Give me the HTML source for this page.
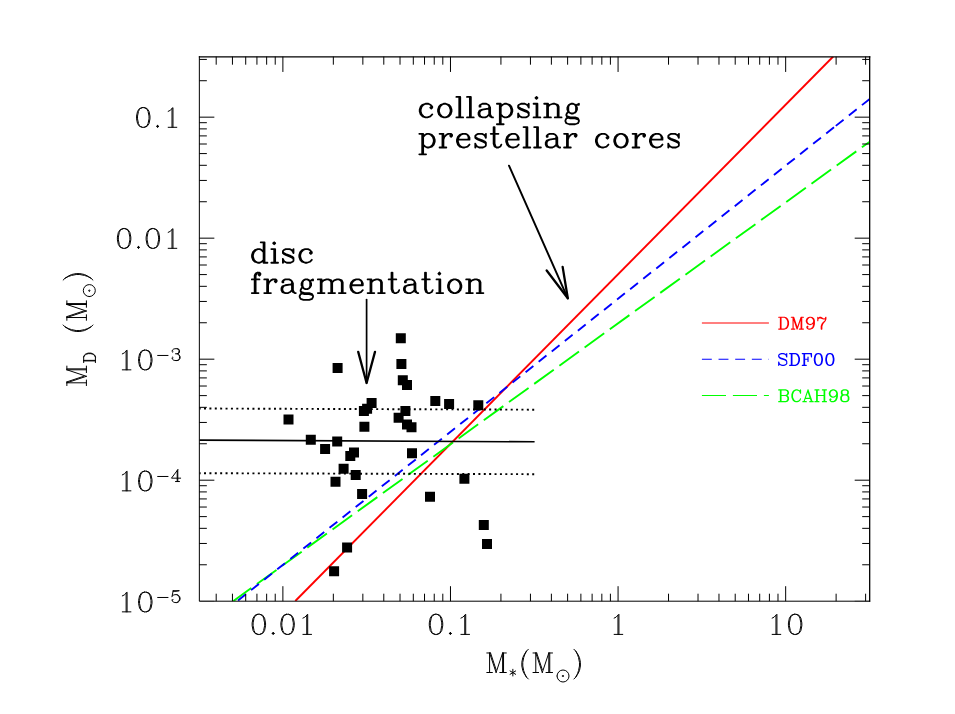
<!DOCTYPE html>
<html><head><meta charset="utf-8"><title>M_D vs M_*</title>
<style>html,body{margin:0;padding:0;background:#fff;font-family:"Liberation Sans",sans-serif}svg{display:block}</style>
</head><body>
<svg width="955" height="714" viewBox="0 0 955 714">
<rect width="955" height="714" fill="#fff"/>
<defs><clipPath id="c"><rect x="199.35" y="56.65" width="670.35" height="544.5500000000001"/></clipPath></defs>
<g clip-path="url(#c)" fill="none" stroke-width="1.9">
<path d="M295.3 601L833.2 56.5" stroke="#f00"/>
<path d="M233.4 601L869.4 141.9" stroke="#0f0" stroke-dasharray="24.15 6.94" stroke-dashoffset="2.1"/>
<path d="M237.4 601L834.80 126.67" stroke="#00f" stroke-dasharray="9.95 6.74" stroke-dashoffset="-0.8"/>
<path d="M835.80 125.88L880 90.78" stroke="#00f" stroke-dasharray="9.95 6.74"/>
<path d="M199.35 440.1L534.6 441.8" stroke="#000" stroke-width="1.6"/>
<path d="M199.35 408.5L534.6 409.7M199.35 473.2L534.6 474.2" stroke="#000" stroke-width="1.9" stroke-dasharray="2 3.38" stroke-dashoffset="0.7"/>
</g>
<path d="M395.8 333.2h10.0v10.0h-10.0zM332.6 362.9h10.0v10.0h-10.0zM396.4 359.0h10.0v10.0h-10.0zM397.8 375.2h10.0v10.0h-10.0zM402.0 380.0h10.0v10.0h-10.0zM366.6 398.1h10.0v10.0h-10.0zM362.1 403.8h10.0v10.0h-10.0zM358.9 405.9h10.0v10.0h-10.0zM283.5 414.5h10.0v10.0h-10.0zM359.4 421.7h10.0v10.0h-10.0zM400.4 406.1h10.0v10.0h-10.0zM393.6 412.8h10.0v10.0h-10.0zM402.0 419.6h10.0v10.0h-10.0zM406.5 422.3h10.0v10.0h-10.0zM305.8 434.8h10.0v10.0h-10.0zM332.2 436.5h10.0v10.0h-10.0zM320.1 443.9h10.0v10.0h-10.0zM349.0 447.4h10.0v10.0h-10.0zM345.3 451.1h10.0v10.0h-10.0zM407.0 448.3h10.0v10.0h-10.0zM338.6 463.7h10.0v10.0h-10.0zM350.7 470.1h10.0v10.0h-10.0zM330.5 476.8h10.0v10.0h-10.0zM357.1 488.9h10.0v10.0h-10.0zM425.0 491.8h10.0v10.0h-10.0zM430.3 396.0h10.0v10.0h-10.0zM444.1 398.9h10.0v10.0h-10.0zM473.3 400.2h10.0v10.0h-10.0zM459.4 473.8h10.0v10.0h-10.0zM342.1 542.5h10.0v10.0h-10.0zM329.1 566.2h10.0v10.0h-10.0zM478.8 520.1h10.0v10.0h-10.0zM482.0 539.0h10.0v10.0h-10.0z" fill="#000"/>
<path d="M198.85 56.85H870.3000000000001" stroke="#000" stroke-width="1.3" fill="none"/>
<path d="M869.6800000000001 56.15V601.7" stroke="#000" stroke-width="1.3" fill="none"/>
<path d="M199.35 56.15V601.2H870.2M216.20 601.2v-7.5M216.20 56.65v8.05M232.44 601.2v-7.5M232.44 56.65v8.05M245.71 601.2v-7.5M245.71 56.65v8.05M256.93 601.2v-7.5M256.93 56.65v8.05M266.65 601.2v-7.5M266.65 56.65v8.05M275.23 601.2v-7.5M275.23 56.65v8.05M282.89 601.2v-15.0M282.89 56.65v15.3M333.34 601.2v-7.5M333.34 56.65v8.05M362.85 601.2v-7.5M362.85 56.65v8.05M383.79 601.2v-7.5M383.79 56.65v8.05M400.03 601.2v-7.5M400.03 56.65v8.05M413.30 601.2v-7.5M413.30 56.65v8.05M424.52 601.2v-7.5M424.52 56.65v8.05M434.24 601.2v-7.5M434.24 56.65v8.05M442.81 601.2v-7.5M442.81 56.65v8.05M450.48 601.2v-15.0M450.48 56.65v15.3M500.93 601.2v-7.5M500.93 56.65v8.05M530.44 601.2v-7.5M530.44 56.65v8.05M551.38 601.2v-7.5M551.38 56.65v8.05M567.62 601.2v-7.5M567.62 56.65v8.05M580.89 601.2v-7.5M580.89 56.65v8.05M592.11 601.2v-7.5M592.11 56.65v8.05M601.83 601.2v-7.5M601.83 56.65v8.05M610.40 601.2v-7.5M610.40 56.65v8.05M618.07 601.2v-15.0M618.07 56.65v15.3M668.52 601.2v-7.5M668.52 56.65v8.05M698.03 601.2v-7.5M698.03 56.65v8.05M718.97 601.2v-7.5M718.97 56.65v8.05M735.21 601.2v-7.5M735.21 56.65v8.05M748.48 601.2v-7.5M748.48 56.65v8.05M759.70 601.2v-7.5M759.70 56.65v8.05M769.42 601.2v-7.5M769.42 56.65v8.05M777.99 601.2v-7.5M777.99 56.65v8.05M785.66 601.2v-15.0M785.66 56.65v15.3M836.11 601.2v-7.5M836.11 56.65v8.05M865.62 601.2v-7.5M865.62 56.65v8.05M199.35 564.77h7.5M869.7 564.77h-7.5M199.35 543.46h7.5M869.7 543.46h-7.5M199.35 528.34h7.5M869.7 528.34h-7.5M199.35 516.62h7.5M869.7 516.62h-7.5M199.35 507.04h7.5M869.7 507.04h-7.5M199.35 498.93h7.5M869.7 498.93h-7.5M199.35 491.92h7.5M869.7 491.92h-7.5M199.35 485.73h7.5M869.7 485.73h-7.5M199.35 480.19h15.0M869.7 480.19h-15.0M199.35 443.76h7.5M869.7 443.76h-7.5M199.35 422.45h7.5M869.7 422.45h-7.5M199.35 407.33h7.5M869.7 407.33h-7.5M199.35 395.61h7.5M869.7 395.61h-7.5M199.35 386.02h7.5M869.7 386.02h-7.5M199.35 377.92h7.5M869.7 377.92h-7.5M199.35 370.90h7.5M869.7 370.90h-7.5M199.35 364.71h7.5M869.7 364.71h-7.5M199.35 359.18h15.0M869.7 359.18h-15.0M199.35 322.75h7.5M869.7 322.75h-7.5M199.35 301.44h7.5M869.7 301.44h-7.5M199.35 286.32h7.5M869.7 286.32h-7.5M199.35 274.59h7.5M869.7 274.59h-7.5M199.35 265.01h7.5M869.7 265.01h-7.5M199.35 256.91h7.5M869.7 256.91h-7.5M199.35 249.89h7.5M869.7 249.89h-7.5M199.35 243.70h7.5M869.7 243.70h-7.5M199.35 238.17h15.0M869.7 238.17h-15.0M199.35 201.74h7.5M869.7 201.74h-7.5M199.35 180.43h7.5M869.7 180.43h-7.5M199.35 165.31h7.5M869.7 165.31h-7.5M199.35 153.58h7.5M869.7 153.58h-7.5M199.35 144.00h7.5M869.7 144.00h-7.5M199.35 135.90h7.5M869.7 135.90h-7.5M199.35 128.88h7.5M869.7 128.88h-7.5M199.35 122.69h7.5M869.7 122.69h-7.5M199.35 117.16h15.0M869.7 117.16h-15.0M199.35 80.73h7.5M869.7 80.73h-7.5M199.35 59.42h7.5M869.7 59.42h-7.5" fill="none" stroke="#000" stroke-width="1.0" stroke-linecap="butt"/>
<path d="M199.35 601.2h15.0M869.7 601.2h-15.0" fill="none" stroke="#000" stroke-opacity="0.4" stroke-width="1.0"/>
<path d="M257.89 614.28L255.01 615.24L253.10 618.11L252.14 622.90L252.14 625.78L253.10 630.57L255.01 633.44L257.89 634.40L259.80 634.40L262.68 633.44L264.59 630.57L265.55 625.78L265.55 622.90L264.59 618.11L262.68 615.24L259.80 614.28L257.89 614.28M257.89 614.28L255.97 615.24L255.01 616.20L254.05 618.11L253.10 622.90L253.10 625.78L254.05 630.57L255.01 632.48L255.97 633.44L257.89 634.40M259.80 634.40L261.72 633.44L262.68 632.48L263.63 630.57L264.59 625.78L264.59 622.90L263.63 618.11L262.68 616.20L261.72 615.24L259.80 614.28M273.21 632.48L272.26 633.44L273.21 634.40L274.17 633.44L273.21 632.48M272.26 633.44L274.17 633.44M273.21 632.48L273.21 634.40M286.63 614.28L283.75 615.24L281.84 618.11L280.88 622.90L280.88 625.78L281.84 630.57L283.75 633.44L286.63 634.40L288.54 634.40L291.42 633.44L293.33 630.57L294.29 625.78L294.29 622.90L293.33 618.11L291.42 615.24L288.54 614.28L286.63 614.28M286.63 614.28L284.71 615.24L283.75 616.20L282.79 618.11L281.84 622.90L281.84 625.78L282.79 630.57L283.75 632.48L284.71 633.44L286.63 634.40M288.54 634.40L290.46 633.44L291.42 632.48L292.37 630.57L293.33 625.78L293.33 622.90L292.37 618.11L291.42 616.20L290.46 615.24L288.54 614.28M302.91 618.11L304.83 617.16L307.70 614.28L307.70 634.40M306.74 615.24L306.74 634.40M302.91 634.40L311.53 634.40M435.05 614.28L432.18 615.24L430.26 618.11L429.31 622.90L429.31 625.78L430.26 630.57L432.18 633.44L435.05 634.40L436.97 634.40L439.84 633.44L441.76 630.57L442.72 625.78L442.72 622.90L441.76 618.11L439.84 615.24L436.97 614.28L435.05 614.28M435.05 614.28L433.14 615.24L432.18 616.20L431.22 618.11L430.26 622.90L430.26 625.78L431.22 630.57L432.18 632.48L433.14 633.44L435.05 634.40M436.97 634.40L438.89 633.44L439.84 632.48L440.80 630.57L441.76 625.78L441.76 622.90L440.80 618.11L439.84 616.20L438.89 615.24L436.97 614.28M450.38 632.48L449.42 633.44L450.38 634.40L451.34 633.44L450.38 632.48M449.42 633.44L451.34 633.44M450.38 632.48L450.38 634.40M460.92 618.11L462.84 617.16L465.71 614.28L465.71 634.40M464.75 615.24L464.75 634.40M460.92 634.40L469.54 634.40M614.14 618.11L616.05 617.16L618.93 614.28L618.93 634.40M617.97 615.24L617.97 634.40M614.14 634.40L622.76 634.40M772.14 618.11L774.06 617.16L776.93 614.28L776.93 634.40M775.98 615.24L775.98 634.40M772.14 634.40L780.77 634.40M794.18 614.28L791.30 615.24L789.39 618.11L788.43 622.90L788.43 625.78L789.39 630.57L791.30 633.44L794.18 634.40L796.09 634.40L798.97 633.44L800.88 630.57L801.84 625.78L801.84 622.90L800.88 618.11L798.97 615.24L796.09 614.28L794.18 614.28M794.18 614.28L792.26 615.24L791.30 616.20L790.35 618.11L789.39 622.90L789.39 625.78L790.35 630.57L791.30 632.48L792.26 633.44L794.18 634.40M796.09 634.40L798.01 633.44L798.97 632.48L799.93 630.57L800.88 625.78L800.88 622.90L799.93 618.11L798.97 616.20L798.01 615.24L796.09 614.28M142.31 107.61L139.44 108.54L137.52 111.36L136.56 116.05L136.56 118.86L137.52 123.55L139.44 126.37L142.31 127.30L144.23 127.30L147.10 126.37L149.02 123.55L149.98 118.86L149.98 116.05L149.02 111.36L147.10 108.54L144.23 107.61L142.31 107.61M142.31 107.61L140.40 108.54L139.44 109.48L138.48 111.36L137.52 116.05L137.52 118.86L138.48 123.55L139.44 125.43L140.40 126.37L142.31 127.30M144.23 127.30L146.14 126.37L147.10 125.43L148.06 123.55L149.02 118.86L149.02 116.05L148.06 111.36L147.10 109.48L146.14 108.54L144.23 107.61M157.64 125.43L156.68 126.37L157.64 127.30L158.60 126.37L157.64 125.43M156.68 126.37L158.60 126.37M157.64 125.43L157.64 127.30M168.18 111.36L170.09 110.42L172.97 107.61L172.97 127.30M172.01 108.54L172.01 127.30M168.18 127.30L176.80 127.30M123.15 228.62L120.28 229.56L118.36 232.37L117.40 237.06L117.40 239.87L118.36 244.56L120.28 247.38L123.15 248.32L125.07 248.32L127.94 247.38L129.86 244.56L130.82 239.87L130.82 237.06L129.86 232.37L127.94 229.56L125.07 228.62L123.15 228.62M123.15 228.62L121.24 229.56L120.28 230.49L119.32 232.37L118.36 237.06L118.36 239.87L119.32 244.56L120.28 246.44L121.24 247.38L123.15 248.32M125.07 248.32L126.98 247.38L127.94 246.44L128.90 244.56L129.86 239.87L129.86 237.06L128.90 232.37L127.94 230.49L126.98 229.56L125.07 228.62M138.48 246.44L137.52 247.38L138.48 248.32L139.44 247.38L138.48 246.44M137.52 247.38L139.44 247.38M138.48 246.44L138.48 248.32M151.89 228.62L149.02 229.56L147.10 232.37L146.14 237.06L146.14 239.87L147.10 244.56L149.02 247.38L151.89 248.32L153.81 248.32L156.68 247.38L158.60 244.56L159.56 239.87L159.56 237.06L158.60 232.37L156.68 229.56L153.81 228.62L151.89 228.62M151.89 228.62L149.98 229.56L149.02 230.49L148.06 232.37L147.10 237.06L147.10 239.87L148.06 244.56L149.02 246.44L149.98 247.38L151.89 248.32M153.81 248.32L155.72 247.38L156.68 246.44L157.64 244.56L158.60 239.87L158.60 237.06L157.64 232.37L156.68 230.49L155.72 229.56L153.81 228.62M168.18 232.37L170.09 231.43L172.97 228.62L172.97 248.32M172.01 229.56L172.01 248.32M168.18 248.32L176.80 248.32M122.30 353.88L124.22 352.94L127.09 350.13L127.09 369.83M126.13 351.07L126.13 369.83M122.30 369.83L130.92 369.83M144.33 350.13L141.46 351.07L139.54 353.88L138.59 358.57L138.59 361.38L139.54 366.07L141.46 368.89L144.33 369.83L146.25 369.83L149.12 368.89L151.04 366.07L152.00 361.38L152.00 358.57L151.04 353.88L149.12 351.07L146.25 350.13L144.33 350.13M144.33 350.13L142.42 351.07L141.46 352.00L140.50 353.88L139.54 358.57L139.54 361.38L140.50 366.07L141.46 367.95L142.42 368.89L144.33 369.83M146.25 369.83L148.17 368.89L149.12 367.95L150.08 366.07L151.04 361.38L151.04 358.57L150.08 353.88L149.12 352.00L148.17 351.07L146.25 350.13M157.67 355.46L168.02 355.46M172.62 350.96L173.19 351.52L172.62 352.08L172.04 351.52L172.04 350.96L172.62 349.83L173.19 349.27L174.92 348.71L177.21 348.71L178.94 349.27L179.51 350.40L179.51 352.08L178.94 353.21L177.21 353.77L175.49 353.77M177.21 348.71L178.36 349.27L178.94 350.40L178.94 352.08L178.36 353.21L177.21 353.77M177.21 353.77L178.36 354.34L179.51 355.46L180.09 356.59L180.09 358.28L179.51 359.40L178.94 359.96L177.21 360.53L174.92 360.53L173.19 359.96L172.62 359.40L172.04 358.28L172.04 357.71L172.62 357.15L173.19 357.71L172.62 358.28M178.94 354.90L179.51 356.59L179.51 358.28L178.94 359.40L178.36 359.96L177.21 360.53M122.30 474.89L124.22 473.95L127.09 471.14L127.09 490.84M126.13 472.08L126.13 490.84M122.30 490.84L130.92 490.84M144.33 471.14L141.46 472.08L139.54 474.89L138.59 479.58L138.59 482.40L139.54 487.09L141.46 489.90L144.33 490.84L146.25 490.84L149.12 489.90L151.04 487.09L152.00 482.40L152.00 479.58L151.04 474.89L149.12 472.08L146.25 471.14L144.33 471.14M144.33 471.14L142.42 472.08L141.46 473.02L140.50 474.89L139.54 479.58L139.54 482.40L140.50 487.09L141.46 488.96L142.42 489.90L144.33 490.84M146.25 490.84L148.17 489.90L149.12 488.96L150.08 487.09L151.04 482.40L151.04 479.58L150.08 474.89L149.12 473.02L148.17 472.08L146.25 471.14M157.67 476.47L168.02 476.47M177.21 470.84L177.21 481.54M177.79 469.72L177.79 481.54M177.79 469.72L171.47 478.16L180.66 478.16M175.49 481.54L179.51 481.54M122.30 595.90L124.22 594.97L127.09 592.15L127.09 611.85M126.13 593.09L126.13 611.85M122.30 611.85L130.92 611.85M144.33 592.15L141.46 593.09L139.54 595.90L138.59 600.59L138.59 603.41L139.54 608.10L141.46 610.91L144.33 611.85L146.25 611.85L149.12 610.91L151.04 608.10L152.00 603.41L152.00 600.59L151.04 595.90L149.12 593.09L146.25 592.15L144.33 592.15M144.33 592.15L142.42 593.09L141.46 594.03L140.50 595.90L139.54 600.59L139.54 603.41L140.50 608.10L141.46 609.97L142.42 610.91L144.33 611.85M146.25 611.85L148.17 610.91L149.12 609.97L150.08 608.10L151.04 603.41L151.04 600.59L150.08 595.90L149.12 594.03L148.17 593.09L146.25 592.15M157.67 597.48L168.02 597.48M173.19 590.73L172.04 596.36M172.04 596.36L173.19 595.23L174.92 594.67L176.64 594.67L178.36 595.23L179.51 596.36L180.09 598.05L180.09 599.17L179.51 600.86L178.36 601.99L176.64 602.55L174.92 602.55L173.19 601.99L172.62 601.42L172.04 600.30L172.04 599.74L172.62 599.17L173.19 599.74L172.62 600.30M176.64 594.67L177.79 595.23L178.94 596.36L179.51 598.05L179.51 599.17L178.94 600.86L177.79 601.99L176.64 602.55M173.19 590.73L178.94 590.73M173.19 591.29L176.06 591.29L178.94 590.73" fill="none" stroke="#000" stroke-width="1.0" stroke-linecap="round" stroke-linejoin="round"/>
<path d="M489.59 652.97L489.59 672.50M490.52 652.97L496.10 669.71M489.59 652.97L496.10 672.50M502.61 652.97L496.10 672.50M502.61 652.97L502.61 672.50M503.54 652.97L503.54 672.50M486.80 652.97L490.52 652.97M502.61 652.97L506.33 652.97M486.80 672.50L492.38 672.50M499.82 672.50L506.33 672.50M512.85 669.28L512.85 675.98M510.06 670.96L515.64 674.30M515.64 670.96L510.06 674.30M528.35 649.25L526.49 651.11L524.63 653.90L522.77 657.62L521.84 662.27L521.84 665.99L522.77 670.64L524.63 674.36L526.49 677.15L528.35 679.01M526.49 651.11L524.63 654.83L523.70 657.62L522.77 662.27L522.77 665.99L523.70 670.64L524.63 673.43L526.49 677.15M535.79 652.97L535.79 672.50M536.72 652.97L542.30 669.71M535.79 652.97L542.30 672.50M548.81 652.97L542.30 672.50M548.81 652.97L548.81 672.50M549.74 652.97L549.74 672.50M533.00 652.97L536.72 652.97M548.81 652.97L552.53 652.97M533.00 672.50L538.58 672.50M546.02 672.50L552.53 672.50M557.00 676.00a6.0 6.0 0 1 0 12.0 0a6.0 6.0 0 1 0 -12.0 0M562.35 676.00a0.65 0.65 0 1 0 1.3 0a0.65 0.65 0 1 0 -1.3 0M573.89 649.25L575.75 651.11L577.61 653.90L579.47 657.62L580.40 662.27L580.40 665.99L579.47 670.64L577.61 674.36L575.75 677.15L573.89 679.01M575.75 651.11L577.61 654.83L578.54 657.62L579.47 662.27L579.47 665.99L578.54 670.64L577.61 673.43L575.75 677.15" fill="none" stroke="#000" stroke-width="1.0" stroke-linecap="round" stroke-linejoin="round"/>
<g transform="translate(86.4 386.2) rotate(-90)"><path d="M3.39 -19.53L3.39 0.00M4.32 -19.53L9.90 -2.79M3.39 -19.53L9.90 0.00M16.41 -19.53L9.90 0.00M16.41 -19.53L16.41 0.00M17.34 -19.53L17.34 0.00M0.60 -19.53L4.32 -19.53M16.41 -19.53L20.13 -19.53M0.60 0.00L6.18 0.00M13.62 0.00L20.13 0.00M25.28 -2.72L25.28 9.00M25.84 -2.72L25.84 9.00M23.61 -2.72L29.19 -2.72L30.86 -2.16L31.98 -1.04L32.53 0.07L33.09 1.75L33.09 4.54L32.53 6.21L31.98 7.33L30.86 8.44L29.19 9.00L23.61 9.00M29.19 -2.72L30.30 -2.16L31.42 -1.04L31.98 0.07L32.53 1.75L32.53 4.54L31.98 6.21L31.42 7.33L30.30 8.44L29.19 9.00M61.23 -23.25L59.37 -21.39L57.51 -18.60L55.65 -14.88L54.72 -10.23L54.72 -6.51L55.65 -1.86L57.51 1.86L59.37 4.65L61.23 6.51M59.37 -21.39L57.51 -17.67L56.58 -14.88L55.65 -10.23L55.65 -6.51L56.58 -1.86L57.51 0.93L59.37 4.65M68.67 -19.53L68.67 0.00M69.60 -19.53L75.18 -2.79M68.67 -19.53L75.18 0.00M81.69 -19.53L75.18 0.00M81.69 -19.53L81.69 0.00M82.62 -19.53L82.62 0.00M65.88 -19.53L69.60 -19.53M81.69 -19.53L85.41 -19.53M65.88 0.00L71.46 0.00M78.90 0.00L85.41 0.00M89.60 2.90a6.0 6.0 0 1 0 12.0 0a6.0 6.0 0 1 0 -12.0 0M94.95 2.90a0.65 0.65 0 1 0 1.3 0a0.65 0.65 0 1 0 -1.3 0M106.09 -23.25L107.95 -21.39L109.81 -18.60L111.67 -14.88L112.60 -10.23L112.60 -6.51L111.67 -1.86L109.81 1.86L107.95 4.65L106.09 6.51M107.95 -21.39L109.81 -17.67L110.74 -14.88L111.67 -10.23L111.67 -6.51L110.74 -1.86L109.81 0.93L107.95 4.65" fill="none" stroke="#000" stroke-width="1.0" stroke-linecap="round" stroke-linejoin="round"/></g>
<path d="M431.28 106.68L430.31 107.65L431.28 108.62L432.25 107.65L432.25 106.68L430.31 104.73L428.38 103.75L425.49 103.75L422.60 104.73L420.67 106.68L419.70 109.60L419.70 111.55L420.67 114.48L422.60 116.43L425.49 117.40L427.42 117.40L430.31 116.43L432.25 114.48M425.49 103.75L423.56 104.73L421.63 106.68L420.67 109.60L420.67 111.55L421.63 114.48L423.56 116.43L425.49 117.40M443.82 103.75L440.93 104.73L439.00 106.68L438.04 109.60L438.04 111.55L439.00 114.48L440.93 116.43L443.82 117.40L445.75 117.40L448.65 116.43L450.58 114.48L451.55 111.55L451.55 109.60L450.58 106.68L448.65 104.73L445.75 103.75L443.82 103.75M443.82 103.75L441.89 104.73L439.97 106.68L439.00 109.60L439.00 111.55L439.97 114.48L441.89 116.43L443.82 117.40M445.75 117.40L447.69 116.43L449.62 114.48L450.58 111.55L450.58 109.60L449.62 106.68L447.69 104.73L445.75 103.75M459.26 96.93L459.26 117.40M460.23 96.93L460.23 117.40M456.37 96.93L460.23 96.93M456.37 117.40L463.12 117.40M469.88 96.93L469.88 117.40M470.85 96.93L470.85 117.40M466.99 96.93L470.85 96.93M466.99 117.40L473.74 117.40M480.50 105.70L480.50 106.68L479.53 106.68L479.53 105.70L480.50 104.73L482.43 103.75L486.29 103.75L488.22 104.73L489.18 105.70L490.14 107.65L490.14 114.48L491.11 116.43L492.07 117.40M489.18 105.70L489.18 114.48L490.14 116.43L492.07 117.40L493.04 117.40M489.18 107.65L488.22 108.62L482.43 109.60L479.53 110.58L478.56 112.53L478.56 114.48L479.53 116.43L482.43 117.40L485.32 117.40L487.25 116.43L489.18 114.48M482.43 109.60L480.50 110.58L479.53 112.53L479.53 114.48L480.50 116.43L482.43 117.40M499.80 103.75L499.80 124.23M500.76 103.75L500.76 124.23M500.76 106.68L502.69 104.73L504.62 103.75L506.55 103.75L509.44 104.73L511.38 106.68L512.34 109.60L512.34 111.55L511.38 114.48L509.44 116.43L506.55 117.40L504.62 117.40L502.69 116.43L500.76 114.48M506.55 103.75L508.48 104.73L510.41 106.68L511.38 109.60L511.38 111.55L510.41 114.48L508.48 116.43L506.55 117.40M496.90 103.75L500.76 103.75M496.90 124.23L503.65 124.23M527.78 105.70L528.75 103.75L528.75 107.65L527.78 105.70L526.82 104.73L524.88 103.75L521.02 103.75L519.10 104.73L518.13 105.70L518.13 107.65L519.10 108.62L521.02 109.60L525.85 111.55L527.78 112.53L528.75 113.50M518.13 106.68L519.10 107.65L521.02 108.62L525.85 110.58L527.78 111.55L528.75 112.53L528.75 115.45L527.78 116.43L525.85 117.40L521.99 117.40L520.06 116.43L519.10 115.45L518.13 113.50L518.13 117.40L519.10 115.45M536.47 96.93L535.50 97.90L536.47 98.88L537.43 97.90L536.47 96.93M536.47 103.75L536.47 117.40M537.43 103.75L537.43 117.40M533.57 103.75L537.43 103.75M533.57 117.40L540.33 117.40M547.08 103.75L547.08 117.40M548.05 103.75L548.05 117.40M548.05 106.68L549.98 104.73L552.87 103.75L554.80 103.75L557.69 104.73L558.66 106.68L558.66 117.40M554.80 103.75L556.73 104.73L557.69 106.68L557.69 117.40M544.18 103.75L548.05 103.75M544.18 117.40L550.94 117.40M554.80 117.40L561.56 117.40M571.21 103.75L569.27 104.73L568.31 105.70L567.35 107.65L567.35 109.60L568.31 111.55L569.27 112.53L571.21 113.50L573.13 113.50L575.07 112.53L576.03 111.55L577.00 109.60L577.00 107.65L576.03 105.70L575.07 104.73L573.13 103.75L571.21 103.75M569.27 104.73L568.31 106.68L568.31 110.58L569.27 112.53M575.07 112.53L576.03 110.58L576.03 106.68L575.07 104.73M576.03 105.70L577.00 104.73L578.92 103.75L578.92 104.73L577.00 104.73M568.31 111.55L567.35 112.53L566.38 114.48L566.38 115.45L567.35 117.40L570.24 118.38L575.07 118.38L577.96 119.35L578.92 120.33M566.38 115.45L567.35 116.43L570.24 117.40L575.07 117.40L577.96 118.38L578.92 120.33L578.92 121.30L577.96 123.25L575.07 124.23L569.27 124.23L566.38 123.25L565.41 121.30L565.41 120.33L566.38 118.38L569.27 117.40M422.19 133.85L422.19 154.32M423.16 133.85L423.16 154.32M423.16 136.78L425.09 134.82L427.02 133.85L428.95 133.85L431.85 134.82L433.77 136.78L434.74 139.70L434.74 141.65L433.77 144.57L431.85 146.53L428.95 147.50L427.02 147.50L425.09 146.53L423.16 144.57M428.95 133.85L430.88 134.82L432.81 136.78L433.77 139.70L433.77 141.65L432.81 144.57L430.88 146.53L428.95 147.50M419.30 133.85L423.16 133.85M419.30 154.32L426.06 154.32M442.46 133.85L442.46 147.50M443.43 133.85L443.43 147.50M443.43 139.70L444.39 136.78L446.32 134.82L448.25 133.85L451.14 133.85L452.11 134.82L452.11 135.80L451.14 136.78L450.18 135.80L451.14 134.82M439.56 133.85L443.43 133.85M439.56 147.50L446.32 147.50M457.90 139.70L469.48 139.70L469.48 137.75L468.51 135.80L467.55 134.82L465.62 133.85L462.73 133.85L459.83 134.82L457.90 136.78L456.94 139.70L456.94 141.65L457.90 144.57L459.83 146.53L462.73 147.50L464.65 147.50L467.55 146.53L469.48 144.57M468.51 139.70L468.51 136.78L467.55 134.82M462.73 133.85L460.80 134.82L458.87 136.78L457.90 139.70L457.90 141.65L458.87 144.57L460.80 146.53L462.73 147.50M484.92 135.80L485.88 133.85L485.88 137.75L484.92 135.80L483.95 134.82L482.02 133.85L478.17 133.85L476.24 134.82L475.27 135.80L475.27 137.75L476.24 138.72L478.17 139.70L482.99 141.65L484.92 142.62L485.88 143.60M475.27 136.78L476.24 137.75L478.17 138.72L482.99 140.68L484.92 141.65L485.88 142.62L485.88 145.55L484.92 146.53L482.99 147.50L479.13 147.50L477.20 146.53L476.24 145.55L475.27 143.60L475.27 147.50L476.24 145.55M493.61 127.03L493.61 143.60L494.57 146.53L496.50 147.50L498.43 147.50L500.36 146.53L501.32 144.57M494.57 127.03L494.57 143.60L495.53 146.53L496.50 147.50M490.71 133.85L498.43 133.85M507.12 139.70L518.70 139.70L518.70 137.75L517.73 135.80L516.76 134.82L514.84 133.85L511.94 133.85L509.05 134.82L507.12 136.78L506.15 139.70L506.15 141.65L507.12 144.57L509.05 146.53L511.94 147.50L513.87 147.50L516.76 146.53L518.70 144.57M517.73 139.70L517.73 136.78L516.76 134.82M511.94 133.85L510.01 134.82L508.08 136.78L507.12 139.70L507.12 141.65L508.08 144.57L510.01 146.53L511.94 147.50M526.41 127.03L526.41 147.50M527.38 127.03L527.38 147.50M523.52 127.03L527.38 127.03M523.52 147.50L530.27 147.50M537.03 127.03L537.03 147.50M538.00 127.03L538.00 147.50M534.13 127.03L538.00 127.03M534.13 147.50L540.89 147.50M547.64 135.80L547.64 136.78L546.68 136.78L546.68 135.80L547.64 134.82L549.58 133.85L553.43 133.85L555.37 134.82L556.33 135.80L557.29 137.75L557.29 144.57L558.26 146.53L559.23 147.50M556.33 135.80L556.33 144.57L557.29 146.53L559.23 147.50L560.19 147.50M556.33 137.75L555.37 138.72L549.58 139.70L546.68 140.68L545.72 142.62L545.72 144.57L546.68 146.53L549.58 147.50L552.47 147.50L554.40 146.53L556.33 144.57M549.58 139.70L547.64 140.68L546.68 142.62L546.68 144.57L547.64 146.53L549.58 147.50M566.94 133.85L566.94 147.50M567.91 133.85L567.91 147.50M567.91 139.70L568.88 136.78L570.81 134.82L572.74 133.85L575.63 133.85L576.60 134.82L576.60 135.80L575.63 136.78L574.66 135.80L575.63 134.82M564.05 133.85L567.91 133.85M564.05 147.50L570.81 147.50M607.48 136.78L606.51 137.75L607.48 138.72L608.44 137.75L608.44 136.78L606.51 134.82L604.58 133.85L601.68 133.85L598.79 134.82L596.86 136.78L595.89 139.70L595.89 141.65L596.86 144.57L598.79 146.53L601.68 147.50L603.62 147.50L606.51 146.53L608.44 144.57M601.68 133.85L599.75 134.82L597.83 136.78L596.86 139.70L596.86 141.65L597.83 144.57L599.75 146.53L601.68 147.50M620.02 133.85L617.12 134.82L615.19 136.78L614.23 139.70L614.23 141.65L615.19 144.57L617.12 146.53L620.02 147.50L621.95 147.50L624.85 146.53L626.77 144.57L627.74 141.65L627.74 139.70L626.77 136.78L624.85 134.82L621.95 133.85L620.02 133.85M620.02 133.85L618.09 134.82L616.16 136.78L615.19 139.70L615.19 141.65L616.16 144.57L618.09 146.53L620.02 147.50M621.95 147.50L623.88 146.53L625.81 144.57L626.77 141.65L626.77 139.70L625.81 136.78L623.88 134.82L621.95 133.85M635.46 133.85L635.46 147.50M636.42 133.85L636.42 147.50M636.42 139.70L637.39 136.78L639.32 134.82L641.25 133.85L644.14 133.85L645.11 134.82L645.11 135.80L644.14 136.78L643.18 135.80L644.14 134.82M632.57 133.85L636.42 133.85M632.57 147.50L639.32 147.50M650.90 139.70L662.48 139.70L662.48 137.75L661.51 135.80L660.55 134.82L658.62 133.85L655.73 133.85L652.83 134.82L650.90 136.78L649.93 139.70L649.93 141.65L650.90 144.57L652.83 146.53L655.73 147.50L657.65 147.50L660.55 146.53L662.48 144.57M661.51 139.70L661.51 136.78L660.55 134.82M655.73 133.85L653.79 134.82L651.87 136.78L650.90 139.70L650.90 141.65L651.87 144.57L653.79 146.53L655.73 147.50M677.92 135.80L678.88 133.85L678.88 137.75L677.92 135.80L676.95 134.82L675.02 133.85L671.16 133.85L669.24 134.82L668.27 135.80L668.27 137.75L669.24 138.72L671.16 139.70L675.99 141.65L677.92 142.62L678.88 143.60M668.27 136.78L669.24 137.75L671.16 138.72L675.99 140.68L677.92 141.65L678.88 142.62L678.88 145.55L677.92 146.53L675.99 147.50L672.13 147.50L670.20 146.53L669.24 145.55L668.27 143.60L668.27 147.50L669.24 145.55M263.58 242.28L263.58 262.75M264.55 242.28L264.55 262.75M263.58 252.03L261.65 250.07L259.72 249.10L257.79 249.10L254.89 250.07L252.97 252.03L252.00 254.95L252.00 256.90L252.97 259.82L254.89 261.77L257.79 262.75L259.72 262.75L261.65 261.77L263.58 259.82M257.79 249.10L255.86 250.07L253.93 252.03L252.97 254.95L252.97 256.90L253.93 259.82L255.86 261.77L257.79 262.75M260.69 242.28L264.55 242.28M263.58 262.75L267.44 262.75M274.19 242.28L273.23 243.25L274.19 244.22L275.16 243.25L274.19 242.28M274.19 249.10L274.19 262.75M275.16 249.10L275.16 262.75M271.30 249.10L275.16 249.10M271.30 262.75L278.06 262.75M292.53 251.05L293.50 249.10L293.50 253.00L292.53 251.05L291.56 250.07L289.63 249.10L285.77 249.10L283.84 250.07L282.88 251.05L282.88 253.00L283.84 253.97L285.77 254.95L290.60 256.90L292.53 257.88L293.50 258.85M282.88 252.03L283.84 253.00L285.77 253.97L290.60 255.93L292.53 256.90L293.50 257.88L293.50 260.80L292.53 261.77L290.60 262.75L286.74 262.75L284.81 261.77L283.84 260.80L282.88 258.85L282.88 262.75L283.84 260.80M310.87 252.03L309.90 253.00L310.87 253.97L311.83 253.00L311.83 252.03L309.90 250.07L307.97 249.10L305.07 249.10L302.18 250.07L300.25 252.03L299.28 254.95L299.28 256.90L300.25 259.82L302.18 261.77L305.07 262.75L307.00 262.75L309.90 261.77L311.83 259.82M305.07 249.10L303.14 250.07L301.21 252.03L300.25 254.95L300.25 256.90L301.21 259.82L303.14 261.77L305.07 262.75M259.46 273.55L258.50 274.53L259.46 275.50L260.41 274.53L260.41 273.55L259.46 272.57L257.54 272.57L255.63 273.55L254.67 275.50L254.67 293.05M257.54 272.57L256.59 273.55L255.63 275.50L255.63 293.05M251.80 279.40L259.46 279.40M251.80 293.05L258.50 293.05M267.11 279.40L267.11 293.05M268.07 279.40L268.07 293.05M268.07 285.25L269.03 282.32L270.94 280.38L272.85 279.40L275.73 279.40L276.68 280.38L276.68 281.35L275.73 282.32L274.77 281.35L275.73 280.38M264.24 279.40L268.07 279.40M264.24 293.05L270.94 293.05M283.38 281.35L283.38 282.32L282.42 282.32L282.42 281.35L283.38 280.38L285.30 279.40L289.12 279.40L291.04 280.38L291.99 281.35L292.95 283.30L292.95 290.12L293.91 292.07L294.87 293.05M291.99 281.35L291.99 290.12L292.95 292.07L294.87 293.05L295.82 293.05M291.99 283.30L291.04 284.28L285.30 285.25L282.42 286.23L281.47 288.18L281.47 290.12L282.42 292.07L285.30 293.05L288.17 293.05L290.08 292.07L291.99 290.12M285.30 285.25L283.38 286.23L282.42 288.18L282.42 290.12L283.38 292.07L285.30 293.05M305.39 279.40L303.48 280.38L302.52 281.35L301.56 283.30L301.56 285.25L302.52 287.20L303.48 288.18L305.39 289.15L307.31 289.15L309.22 288.18L310.18 287.20L311.13 285.25L311.13 283.30L310.18 281.35L309.22 280.38L307.31 279.40L305.39 279.40M303.48 280.38L302.52 282.32L302.52 286.23L303.48 288.18M309.22 288.18L310.18 286.23L310.18 282.32L309.22 280.38M310.18 281.35L311.13 280.38L313.05 279.40L313.05 280.38L311.13 280.38M302.52 287.20L301.56 288.18L300.61 290.12L300.61 291.10L301.56 293.05L304.44 294.03L309.22 294.03L312.09 295.00L313.05 295.98M300.61 291.10L301.56 292.07L304.44 293.05L309.22 293.05L312.09 294.03L313.05 295.98L313.05 296.95L312.09 298.90L309.22 299.88L303.48 299.88L300.61 298.90L299.65 296.95L299.65 295.98L300.61 294.03L303.48 293.05M320.70 279.40L320.70 293.05M321.66 279.40L321.66 293.05M321.66 282.32L323.58 280.38L326.45 279.40L328.36 279.40L331.23 280.38L332.19 282.32L332.19 293.05M328.36 279.40L330.27 280.38L331.23 282.32L331.23 293.05M332.19 282.32L334.10 280.38L336.97 279.40L338.89 279.40L341.76 280.38L342.72 282.32L342.72 293.05M338.89 279.40L340.80 280.38L341.76 282.32L341.76 293.05M317.83 279.40L321.66 279.40M317.83 293.05L324.53 293.05M328.36 293.05L335.06 293.05M338.89 293.05L345.59 293.05M351.33 285.25L362.81 285.25L362.81 283.30L361.86 281.35L360.90 280.38L358.98 279.40L356.11 279.40L353.24 280.38L351.33 282.32L350.37 285.25L350.37 287.20L351.33 290.12L353.24 292.07L356.11 293.05L358.03 293.05L360.90 292.07L362.81 290.12M361.86 285.25L361.86 282.32L360.90 280.38M356.11 279.40L354.20 280.38L352.29 282.32L351.33 285.25L351.33 287.20L352.29 290.12L354.20 292.07L356.11 293.05M370.47 279.40L370.47 293.05M371.43 279.40L371.43 293.05M371.43 282.32L373.34 280.38L376.21 279.40L378.12 279.40L381.00 280.38L381.95 282.32L381.95 293.05M378.12 279.40L380.04 280.38L381.00 282.32L381.00 293.05M367.60 279.40L371.43 279.40M367.60 293.05L374.30 293.05M378.12 293.05L384.82 293.05M391.52 272.57L391.52 289.15L392.48 292.07L394.39 293.05L396.31 293.05L398.22 292.07L399.18 290.12M392.48 272.57L392.48 289.15L393.44 292.07L394.39 293.05M388.65 279.40L396.31 279.40M405.88 281.35L405.88 282.32L404.92 282.32L404.92 281.35L405.88 280.38L407.79 279.40L411.62 279.40L413.53 280.38L414.49 281.35L415.45 283.30L415.45 290.12L416.40 292.07L417.36 293.05M414.49 281.35L414.49 290.12L415.45 292.07L417.36 293.05L418.32 293.05M414.49 283.30L413.53 284.28L407.79 285.25L404.92 286.23L403.96 288.18L403.96 290.12L404.92 292.07L407.79 293.05L410.66 293.05L412.58 292.07L414.49 290.12M407.79 285.25L405.88 286.23L404.92 288.18L404.92 290.12L405.88 292.07L407.79 293.05M425.02 272.57L425.02 289.15L425.97 292.07L427.89 293.05L429.80 293.05L431.72 292.07L432.67 290.12M425.97 272.57L425.97 289.15L426.93 292.07L427.89 293.05M422.15 279.40L429.80 279.40M439.37 272.57L438.42 273.55L439.37 274.53L440.33 273.55L439.37 272.57M439.37 279.40L439.37 293.05M440.33 279.40L440.33 293.05M436.50 279.40L440.33 279.40M436.50 293.05L443.20 293.05M453.73 279.40L450.86 280.38L448.94 282.32L447.99 285.25L447.99 287.20L448.94 290.12L450.86 292.07L453.73 293.05L455.64 293.05L458.51 292.07L460.43 290.12L461.38 287.20L461.38 285.25L460.43 282.32L458.51 280.38L455.64 279.40L453.73 279.40M453.73 279.40L451.81 280.38L449.90 282.32L448.94 285.25L448.94 287.20L449.90 290.12L451.81 292.07L453.73 293.05M455.64 293.05L457.56 292.07L459.47 290.12L460.43 287.20L460.43 285.25L459.47 282.32L457.56 280.38L455.64 279.40M469.04 279.40L469.04 293.05M470.00 279.40L470.00 293.05M470.00 282.32L471.91 280.38L474.78 279.40L476.70 279.40L479.57 280.38L480.52 282.32L480.52 293.05M476.70 279.40L478.61 280.38L479.57 282.32L479.57 293.05M466.17 279.40L470.00 279.40M466.17 293.05L472.87 293.05M476.70 293.05L483.39 293.05" fill="none" stroke="#000" stroke-width="1.8" stroke-linecap="round" stroke-linejoin="round"/>
<path d="M366.6 299.5L366.6 383.0" fill="none" stroke="#000" stroke-width="1.7" stroke-linecap="round"/>
<path d="M509 165.7L567.8 298.3" fill="none" stroke="#000" stroke-width="1.95" stroke-linecap="round"/>
<path d="M358.22 351.88L366.6 383.0L374.98 351.88M546.68 270.50L567.8 298.3L562.64 266.82" fill="none" stroke="#000" stroke-width="2.3" stroke-linecap="round" stroke-linejoin="round"/>
<path d="M701.9 322.9H768.9" stroke="#f00" stroke-width="1.05" fill="none"/>
<path d="M701.9 359.2H768.9" stroke="#00f" stroke-width="1.05" fill="none" stroke-dasharray="9.9 6.75"/>
<path d="M701.9 395.5H768.9" stroke="#0f0" stroke-width="1.05" fill="none" stroke-dasharray="24.1 6.9"/>
<path d="M780.43 317.29L780.43 329.05M781.00 317.29L781.00 329.05M778.70 317.29L784.45 317.29L786.18 317.85L787.33 318.97L787.90 320.09L788.48 321.77L788.48 324.57L787.90 326.25L787.33 327.37L786.18 328.49L784.45 329.05L778.70 329.05M784.45 317.29L785.60 317.85L786.75 318.97L787.33 320.09L787.90 321.77L787.90 324.57L787.33 326.25L786.75 327.37L785.60 328.49L784.45 329.05M793.08 317.29L793.08 329.05M793.65 317.29L797.10 327.37M793.08 317.29L797.10 329.05M801.13 317.29L797.10 329.05M801.13 317.29L801.13 329.05M801.70 317.29L801.70 329.05M791.35 317.29L793.65 317.29M801.13 317.29L803.43 317.29M791.35 329.05L794.80 329.05M799.40 329.05L803.43 329.05M813.78 321.21L813.20 322.89L812.05 324.01L810.33 324.57L809.75 324.57L808.03 324.01L806.88 322.89L806.30 321.21L806.30 320.65L806.88 318.97L808.03 317.85L809.75 317.29L810.90 317.29L812.63 317.85L813.78 318.97L814.35 320.65L814.35 324.01L813.78 326.25L813.20 327.37L812.05 328.49L810.33 329.05L808.60 329.05L807.45 328.49L806.88 327.37L806.88 326.81L807.45 326.25L808.03 326.81L807.45 327.37M809.75 324.57L808.60 324.01L807.45 322.89L806.88 321.21L806.88 320.65L807.45 318.97L808.60 317.85L809.75 317.29M810.90 317.29L812.05 317.85L813.20 318.97L813.78 320.65L813.78 324.01L813.20 326.25L812.63 327.37L811.48 328.49L810.33 329.05M817.80 317.29L817.80 320.65M817.80 319.53L818.38 318.41L819.53 317.29L820.68 317.29L823.55 318.97L824.70 318.97L825.28 318.41L825.85 317.29M818.38 318.41L819.53 317.85L820.68 317.85L823.55 318.97M825.85 317.29L825.85 318.97L825.28 320.65L822.98 323.45L822.40 324.57L821.83 326.25L821.83 329.05M825.28 320.65L822.40 323.45L821.83 324.57L821.25 326.25L821.25 329.05" fill="none" stroke="#f00" stroke-width="1.15" stroke-linecap="round" stroke-linejoin="round"/>
<path d="M786.18 355.28L786.75 353.60L786.75 356.96L786.18 355.28L785.02 354.16L783.30 353.60L781.58 353.60L779.85 354.16L778.70 355.28L778.70 356.40L779.27 357.52L779.85 358.08L781.00 358.64L784.45 359.76L785.60 360.32L786.75 361.44M778.70 356.40L779.85 357.52L781.00 358.08L784.45 359.20L785.60 359.76L786.18 360.32L786.75 361.44L786.75 363.68L785.60 364.80L783.88 365.36L782.15 365.36L780.43 364.80L779.27 363.68L778.70 362.00L778.70 365.36L779.27 363.68M791.35 353.60L791.35 365.36M791.93 353.60L791.93 365.36M789.62 353.60L795.38 353.60L797.10 354.16L798.25 355.28L798.83 356.40L799.40 358.08L799.40 360.88L798.83 362.56L798.25 363.68L797.10 364.80L795.38 365.36L789.62 365.36M795.38 353.60L796.52 354.16L797.68 355.28L798.25 356.40L798.83 358.08L798.83 360.88L798.25 362.56L797.68 363.68L796.52 364.80L795.38 365.36M804.00 353.60L804.00 365.36M804.58 353.60L804.58 365.36M808.02 356.96L808.02 361.44M802.27 353.60L811.48 353.60L811.48 356.96L810.90 353.60M804.58 359.20L808.02 359.20M802.27 365.36L806.30 365.36M817.80 353.60L816.08 354.16L814.93 355.84L814.35 358.64L814.35 360.32L814.93 363.12L816.08 364.80L817.80 365.36L818.95 365.36L820.68 364.80L821.83 363.12L822.40 360.32L822.40 358.64L821.83 355.84L820.68 354.16L818.95 353.60L817.80 353.60M817.80 353.60L816.65 354.16L816.08 354.72L815.50 355.84L814.93 358.64L814.93 360.32L815.50 363.12L816.08 364.24L816.65 364.80L817.80 365.36M818.95 365.36L820.10 364.80L820.68 364.24L821.25 363.12L821.83 360.32L821.83 358.64L821.25 355.84L820.68 354.72L820.10 354.16L818.95 353.60M829.30 353.60L827.58 354.16L826.43 355.84L825.85 358.64L825.85 360.32L826.43 363.12L827.58 364.80L829.30 365.36L830.45 365.36L832.18 364.80L833.33 363.12L833.90 360.32L833.90 358.64L833.33 355.84L832.18 354.16L830.45 353.60L829.30 353.60M829.30 353.60L828.15 354.16L827.58 354.72L827.00 355.84L826.43 358.64L826.43 360.32L827.00 363.12L827.58 364.24L828.15 364.80L829.30 365.36M830.45 365.36L831.60 364.80L832.18 364.24L832.75 363.12L833.33 360.32L833.33 358.64L832.75 355.84L832.18 354.72L831.60 354.16L830.45 353.60" fill="none" stroke="#00f" stroke-width="1.15" stroke-linecap="round" stroke-linejoin="round"/>
<path d="M780.43 389.90L780.43 401.66M781.00 389.90L781.00 401.66M778.70 389.90L785.60 389.90L787.33 390.46L787.90 391.02L788.48 392.14L788.48 393.26L787.90 394.38L787.33 394.94L785.60 395.50M785.60 389.90L786.75 390.46L787.33 391.02L787.90 392.14L787.90 393.26L787.33 394.38L786.75 394.94L785.60 395.50M781.00 395.50L785.60 395.50L787.33 396.06L787.90 396.62L788.48 397.74L788.48 399.42L787.90 400.54L787.33 401.10L785.60 401.66L778.70 401.66M785.60 395.50L786.75 396.06L787.33 396.62L787.90 397.74L787.90 399.42L787.33 400.54L786.75 401.10L785.60 401.66M799.98 391.58L800.55 393.26L800.55 389.90L799.98 391.58L798.83 390.46L797.10 389.90L795.95 389.90L794.23 390.46L793.08 391.58L792.50 392.70L791.93 394.38L791.93 397.18L792.50 398.86L793.08 399.98L794.23 401.10L795.95 401.66L797.10 401.66L798.83 401.10L799.98 399.98L800.55 398.86M795.95 389.90L794.80 390.46L793.65 391.58L793.08 392.70L792.50 394.38L792.50 397.18L793.08 398.86L793.65 399.98L794.80 401.10L795.95 401.66M808.03 389.90L804.00 401.66M808.03 389.90L812.05 401.66M808.03 391.58L811.48 401.66M805.15 398.30L810.33 398.30M802.85 401.66L806.30 401.66M809.75 401.66L813.20 401.66M816.65 389.90L816.65 401.66M817.23 389.90L817.23 401.66M824.13 389.90L824.13 401.66M824.70 389.90L824.70 401.66M814.93 389.90L818.95 389.90M822.40 389.90L826.43 389.90M817.23 395.50L824.13 395.50M814.93 401.66L818.95 401.66M822.40 401.66L826.43 401.66M836.78 393.82L836.20 395.50L835.05 396.62L833.33 397.18L832.75 397.18L831.03 396.62L829.88 395.50L829.30 393.82L829.30 393.26L829.88 391.58L831.03 390.46L832.75 389.90L833.90 389.90L835.63 390.46L836.78 391.58L837.35 393.26L837.35 396.62L836.78 398.86L836.20 399.98L835.05 401.10L833.33 401.66L831.60 401.66L830.45 401.10L829.88 399.98L829.88 399.42L830.45 398.86L831.03 399.42L830.45 399.98M832.75 397.18L831.60 396.62L830.45 395.50L829.88 393.82L829.88 393.26L830.45 391.58L831.60 390.46L832.75 389.90M833.90 389.90L835.05 390.46L836.20 391.58L836.78 393.26L836.78 396.62L836.20 398.86L835.63 399.98L834.48 401.10L833.33 401.66M843.68 389.90L841.95 390.46L841.38 391.58L841.38 393.26L841.95 394.38L843.68 394.94L845.98 394.94L847.70 394.38L848.28 393.26L848.28 391.58L847.70 390.46L845.98 389.90L843.68 389.90M843.68 389.90L842.53 390.46L841.95 391.58L841.95 393.26L842.53 394.38L843.68 394.94M845.98 394.94L847.12 394.38L847.70 393.26L847.70 391.58L847.12 390.46L845.98 389.90M843.68 394.94L841.95 395.50L841.38 396.06L840.80 397.18L840.80 399.42L841.38 400.54L841.95 401.10L843.68 401.66L845.98 401.66L847.70 401.10L848.28 400.54L848.85 399.42L848.85 397.18L848.28 396.06L847.70 395.50L845.98 394.94M843.68 394.94L842.53 395.50L841.95 396.06L841.38 397.18L841.38 399.42L841.95 400.54L842.53 401.10L843.68 401.66M845.98 401.66L847.12 401.10L847.70 400.54L848.28 399.42L848.28 397.18L847.70 396.06L847.12 395.50L845.98 394.94" fill="none" stroke="#0f0" stroke-width="1.15" stroke-linecap="round" stroke-linejoin="round"/>
</svg>
</body></html>
